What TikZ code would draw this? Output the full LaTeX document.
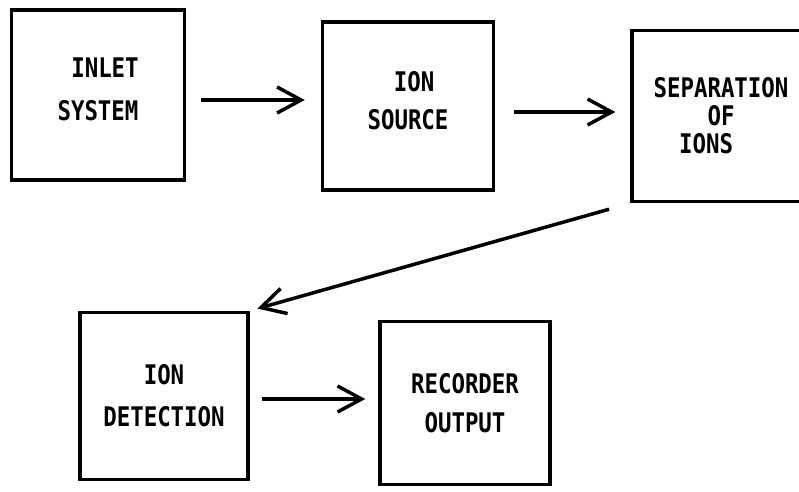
\documentclass[tikz,border=0pt]{standalone}
\usepackage{fontspec}
\setmonofont{DejaVu Sans Mono}[FakeStretch=0.83]
\usetikzlibrary{arrows.meta}

\begin{document}
\begin{tikzpicture}[x=1pt,y=-1pt,
		blk/.style={draw,line width=3.5pt,align=center,inner sep=0pt,
			font=\ttfamily\bfseries\fontsize{27}{28}\selectfont},
		flow/.style={line width=3.5pt,-{Straight Barb[length=24pt,width=26pt]}}]
		\useasboundingbox (0,0) rectangle (799,491);

		% top row
		\node[blk,text depth=11pt,minimum width=173pt,minimum height=170pt] (inlet) at (98,95)
			{\hspace*{14pt}INLET\\[15pt]SYSTEM};
		\node[blk,text depth=12pt,minimum width=171pt,minimum height=168pt] (source) at (408,106)
			{\hspace*{12pt}ION\\[10pt]SOURCE};
		\node[blk,minimum width=178pt,minimum height=171pt] (sep) at (721,116)
			{SEPARATION\\OF\hspace*{36pt}\\IONS\hspace*{30pt}};

		% bottom row
		\node[blk,minimum width=168pt,minimum height=167pt] (detect) at (164,396)
			{ION\\[14pt]DETECTION};
		\node[blk,minimum width=170pt,minimum height=163pt] (rec) at (465,403)
			{RECORDER\\[11pt]OUTPUT};

		\draw[flow,shorten <=15pt,shorten >=16pt]
			([yshift=-5pt]inlet.east) -- ([yshift=-5pt]inlet.east -| source.west);
		\draw[flow,shorten <=19pt,shorten >=15pt]
			([yshift=-6pt]source.east) -- ([yshift=-6pt]source.east -| sep.west);
		\draw[flow,shorten <=22pt,shorten >=8pt] (sep.south west) -- (detect.north east);
		\draw[flow,shorten <=12pt,shorten >=13pt]
			([yshift=-3pt]detect.east) -- ([yshift=-3pt]detect.east -| rec.west);
	\end{tikzpicture}
\end{document}
